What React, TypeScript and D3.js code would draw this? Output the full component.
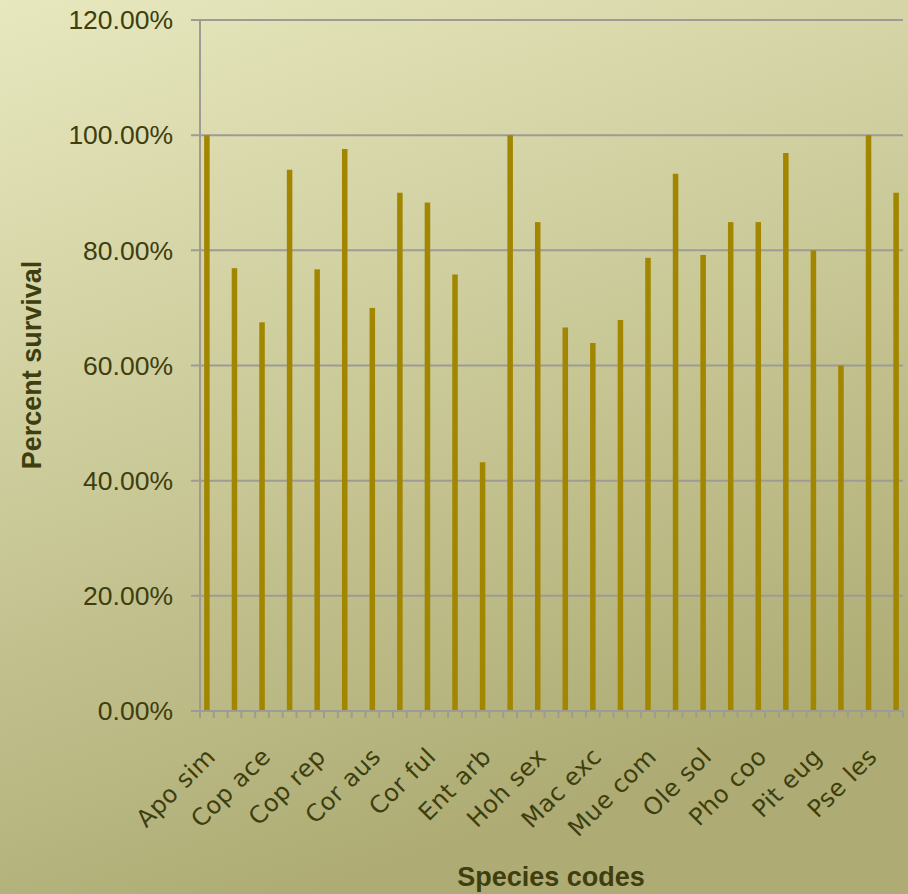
import React from "react";
import * as d3 from "d3";

const W = 908;
const H = 894;

// Visible category labels (every other bar is labelled)
const tickLabels = [
  "Apo sim", "Cop ace", "Cop rep", "Cor aus", "Cor ful", "Ent arb", "Hoh sex",
  "Mac exc", "Mue com", "Ole sol", "Pho coo", "Pit eug", "Pse les",
];

// Percent survival per bar (fraction)
const survival = [
  1.0, 0.769, 0.675, 0.94, 0.767, 0.976, 0.70, 0.90, 0.883, 0.758,
  0.432, 1.0, 0.849, 0.666, 0.639, 0.679, 0.787, 0.933, 0.792, 0.849,
  0.849, 0.969, 0.80, 0.60, 1.0, 0.90,
];

const yTicks = [0, 0.2, 0.4, 0.6, 0.8, 1.0, 1.2];
const categoryCount = 51; // bars sit in every other category slot

const plot = { left: 200, right: 903, top: 20, bottom: 711 };

export default function App() {
  const idx = d3.range(categoryCount);
  const x = d3
    .scaleBand<number>()
    .domain(idx)
    .range([plot.left, plot.right])
    .paddingInner(0.6)
    .paddingOuter(0.3);
  const xEdge = d3.scaleLinear().domain([0, categoryCount]).range([plot.left, plot.right]);
  const y = d3.scaleLinear().domain([0, 1.2]).range([plot.bottom, plot.top]);
  const fmt = (v: number) => (v * 100).toFixed(2) + "%";

  const textColor = "#3e3e0e";
  const gridColor = "#9c9c94";

  return (
    <div style={{ position: "fixed", left: 0, top: 0, width: W, height: H }}>
      <svg width={W} height={H} style={{ display: "block" }}>
        <defs>
          <linearGradient id="bg" x1="0" y1="0" x2="0.35" y2="1">
            <stop offset="0" stopColor="#e8e8bf" />
            <stop offset="1" stopColor="#aeac74" />
          </linearGradient>
        </defs>
        <rect x={0} y={0} width={W} height={H} fill="url(#bg)" />

        {/* gridlines + y ticks */}
        {yTicks.map((t) => (
          <g key={t}>
            {t > 0 && (
              <line
                x1={plot.left - 9}
                x2={plot.right}
                y1={y(t)}
                y2={y(t)}
                stroke={gridColor}
                strokeWidth={2}
              />
            )}
            <text
              x={173}
              y={y(t)}
              dy="0.35em"
              textAnchor="end"
              fontFamily="'Liberation Sans', Arial, sans-serif"
              fontSize={26.5}
              fill={textColor}
            >
              {fmt(t)}
            </text>
          </g>
        ))}

        {/* bars */}
        {survival.map((v, i) => {
          const ci = i * 2;
          return (
            <rect
              key={i}
              x={x(ci)}
              y={y(v)}
              width={x.bandwidth()}
              height={y(0) - y(v)}
              fill="#a28600"
            />
          );
        })}

        {/* axes */}
        <line x1={plot.left - 9} x2={plot.right} y1={y(0)} y2={y(0)} stroke={gridColor} strokeWidth={2} />
        <line x1={plot.left} x2={plot.left} y1={plot.top} y2={y(0)} stroke={gridColor} strokeWidth={2} />
        {d3.range(categoryCount + 1).map((k) => (
          <line
            key={k}
            x1={xEdge(k)}
            x2={xEdge(k)}
            y1={y(0)}
            y2={y(0) + 7}
            stroke={gridColor}
            strokeWidth={2}
          />
        ))}

        {/* x labels */}
        {tickLabels.map((lab, j) => {
          const ci = j * 4;
          const cx = (x(ci) as number) + x.bandwidth() / 2;
          const px = cx + 10;
          const py = 758;
          return (
            <text
              key={lab}
              x={px}
              y={py}
              textAnchor="end"
              transform={`rotate(-45 ${px} ${py})`}
              fontFamily="'DejaVu Sans', Verdana, sans-serif"
              fontSize={24}
              letterSpacing={0.5}
              fill={textColor}
            >
              {lab}
            </text>
          );
        })}

        {/* axis titles */}
        <text
          x={551}
          y={886}
          textAnchor="middle"
          fontFamily="'Liberation Sans', Arial, sans-serif"
          fontWeight="bold"
          fontSize={27}
          fill={textColor}
        >
          Species codes
        </text>
        <text
          transform={`translate(41 365) rotate(-90)`}
          textAnchor="middle"
          fontFamily="'Liberation Sans', Arial, sans-serif"
          fontWeight="bold"
          fontSize={27}
          fill={textColor}
        >
          Percent survival
        </text>
      </svg>
    </div>
  );
}
